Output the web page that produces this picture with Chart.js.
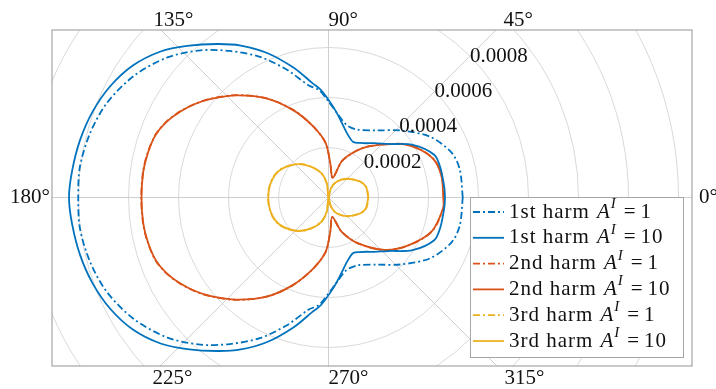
<!DOCTYPE html>
<html>
<head>
<meta charset="utf-8">
<script src="https://cdn.jsdelivr.net/npm/chart.js@4"></script>
<style>
  html, body { margin: 0; padding: 0; background: #fff; }
</style>
</head>
<body>
<canvas id="polar-chart" width="716" height="389"></canvas>
<script>
// Polar data: angle in degrees, radius in plot units
const h1a1Theta = [0, 12, 20, 31, 43, 54, 67, 76, 84, 90, 95, 100, 108, 116, 124, 131, 139, 148, 157, 165, 173, 180,
  187, 195, 203, 212, 221, 229, 236, 244, 252, 260, 265, 270, 276, 284, 293, 306, 317, 329, 340, 348, 360];
const h1a1R = [0.000537, 0.000537, 0.000524, 0.000473, 0.000393, 0.000332, 0.000295, 0.000299, 0.000338, 0.000384, 0.000431,
  0.000455, 0.000537, 0.000626, 0.000707, 0.000780, 0.000854, 0.000918, 0.000964, 0.000988, 0.001002, 0.001001,
  0.001002, 0.000988, 0.000964, 0.000918, 0.000854, 0.000780, 0.000707, 0.000626, 0.000537, 0.000455, 0.000431,
  0.000384, 0.000338, 0.000299, 0.000295, 0.000332, 0.000393, 0.000473, 0.000524, 0.000537, 0.000537];

const h1a10Theta = [0, 5, 15, 22, 32, 42, 50, 55, 60, 66, 74, 81, 87, 94, 98, 105, 113, 120, 126, 133, 139, 146, 153, 160, 167, 174, 180,
  186, 193, 200, 207, 214, 221, 227, 234, 240, 247, 255, 262, 266, 273, 279, 286, 294, 300, 305, 310, 318, 328, 338, 345, 355, 360];
const h1a10R = [0.000466, 0.000465, 0.000463, 0.000456, 0.000397, 0.000320, 0.000284, 0.000265, 0.000252, 0.000243, 0.000268,
  0.000312, 0.000363, 0.000431, 0.000462, 0.000537, 0.000628, 0.000702, 0.000759, 0.000829, 0.000890, 0.000944, 0.000980,
  0.001004, 0.001020, 0.001031, 0.001038,
  0.001031, 0.001020, 0.001004, 0.000980, 0.000944, 0.000890, 0.000829, 0.000759, 0.000702, 0.000628, 0.000537, 0.000462,
  0.000431, 0.000363, 0.000312, 0.000268, 0.000243, 0.000252, 0.000265, 0.000284, 0.000320, 0.000397, 0.000456, 0.000463,
  0.000465, 0.000466];

const h2Theta = [0, 10, 19, 27, 35, 43, 54, 62, 70, 78, 87, 93, 102, 112, 122, 132, 140, 145, 150, 155, 160, 166, 172, 180,
  188, 194, 200, 205, 210, 215, 220, 228, 238, 248, 258, 267, 273, 281, 291, 303, 317, 329, 342, 355, 360];
const h2a1R = [0.000461, 0.000461, 0.000451, 0.000418, 0.000372, 0.000312, 0.000249, 0.000200, 0.000153, 0.000081, 0.000137,
  0.000218, 0.000290, 0.000378, 0.000468, 0.000551, 0.000615, 0.000653, 0.000687, 0.000716, 0.000736, 0.000745, 0.000749, 0.000749,
  0.000749, 0.000745, 0.000736, 0.000716, 0.000687, 0.000653, 0.000615, 0.000551, 0.000468, 0.000378, 0.000290, 0.000218,
  0.000137, 0.000080, 0.000147, 0.000220, 0.000308, 0.000373, 0.000436, 0.000462, 0.000461];
const h2a10R = [0.000459, 0.000460, 0.000450, 0.000417, 0.000371, 0.000311, 0.000248, 0.000200, 0.000153, 0.000080, 0.000137,
  0.000218, 0.000290, 0.000377, 0.000468, 0.000550, 0.000614, 0.000652, 0.000686, 0.000715, 0.000735, 0.000744, 0.000748, 0.000748,
  0.000748, 0.000744, 0.000735, 0.000715, 0.000686, 0.000652, 0.000614, 0.000550, 0.000468, 0.000377, 0.000290, 0.000218,
  0.000137, 0.000079, 0.000147, 0.000219, 0.000307, 0.000372, 0.000435, 0.000461, 0.000459];

const h3Theta = [0, 16, 27, 45, 63, 75, 90, 97, 106, 119, 132, 147, 157, 168, 180,
  192, 203, 213, 228, 241, 254, 263, 270, 285, 297, 315, 333, 344, 360];
const h3a1R = [0.000160, 0.000157, 0.000141, 0.000106, 0.000071, 0.000038, 0, 0.000057, 0.000100, 0.000141, 0.000181,
  0.000217, 0.000233, 0.000240, 0.000242, 0.000240, 0.000233, 0.000217, 0.000181, 0.000141, 0.000100, 0.000057, 0,
  0.000038, 0.000071, 0.000106, 0.000141, 0.000157, 0.000160];
const h3a10R = [0.000159, 0.000156, 0.000141, 0.000106, 0.000071, 0.000038, 0, 0.000057, 0.000100, 0.000140, 0.000180,
  0.000216, 0.000232, 0.000239, 0.000241, 0.000239, 0.000232, 0.000216, 0.000180, 0.000140, 0.000100, 0.000057, 0,
  0.000038, 0.000071, 0.000106, 0.000141, 0.000156, 0.000159];

const seriesNames = ['1st harm', '1st harm', '2nd harm', '2nd harm', '3rd harm', '3rd harm'];
const seriesAmps = ['1', '10', '1', '10', '1', '10'];

const rGrid = [0.0002, 0.0004, 0.0006, 0.0008, 0.0010, 0.0012, 0.0014, 0.0016];
const rTickLabels = ['0.0002', '0.0004', '0.0006', '0.0008'];
const rLabelAngle = 45;
const thetaTicks = [0, 45, 90, 135, 180, 225, 270, 315];

const BLUE = '#0072BD', ORANGE = '#D95319', YELLOW = '#EDB120';
const DASHDOT = [7, 3, 2, 3];
const FONT = '"Liberation Serif", "Times New Roman", serif';

// polar -> cartesian so the linear x/y scales place the points
const toXY = (theta, r) => theta.map((t, i) => {
  const a = t * Math.PI / 180;
  return { x: r[i] * Math.cos(a), y: r[i] * Math.sin(a) };
});

const mkSet = (i, theta, r, color, dashed) => ({
  label: `${seriesNames[i]} A^I = ${seriesAmps[i]}`,
  data: toXY(theta, r),
  borderColor: color,
  backgroundColor: color,
  borderWidth: 1.8,
  borderDash: dashed ? DASHDOT : [],
  showLine: true,
  pointRadius: 0,
  tension: 0.3,
  order: dashed ? 1 : 0
});

const datasets = [
  mkSet(0, h1a1Theta, h1a1R, BLUE, true),
  mkSet(1, h1a10Theta, h1a10R, BLUE, false),
  mkSet(2, h2Theta, h2a1R, ORANGE, true),
  mkSet(3, h2Theta, h2a10R, ORANGE, false),
  mkSet(4, h3Theta, h3a1R, YELLOW, true),
  mkSet(5, h3Theta, h3a10R, YELLOW, false)
];

const polarAxes = {
  id: 'polarAxes',
  beforeDatasetsDraw(chart) {
    const { ctx, chartArea: a, scales: { x, y } } = chart;
    const cx = x.getPixelForValue(0), cy = y.getPixelForValue(0);
    ctx.save();
    ctx.beginPath();
    ctx.rect(a.left, a.top, a.right - a.left, a.bottom - a.top);
    ctx.clip();
    ctx.strokeStyle = '#d9d9d9';
    ctx.lineWidth = 1;
    rGrid.forEach(r => {
      ctx.beginPath();
      ctx.arc(cx, cy, x.getPixelForValue(r) - cx, 0, 2 * Math.PI);
      ctx.stroke();
    });
    ctx.strokeStyle = '#cfcfcf';
    thetaTicks.forEach(t => {
      const ang = t * Math.PI / 180;
      ctx.beginPath();
      ctx.moveTo(cx, cy);
      ctx.lineTo(cx + 2000 * Math.cos(ang), cy - 2000 * Math.sin(ang));
      ctx.stroke();
    });
    ctx.restore();
  },
  afterDatasetsDraw(chart) {
    const { ctx, chartArea: a, scales: { x, y } } = chart;
    const cx = x.getPixelForValue(0), cy = y.getPixelForValue(0);
    ctx.save();

    // frame
    ctx.strokeStyle = '#a6a6a6';
    ctx.lineWidth = 1.2;
    ctx.strokeRect(a.left, a.top, a.right - a.left, a.bottom - a.top);

    ctx.fillStyle = '#111';
    ctx.font = '21px ' + FONT;

    // radius labels along the 45 degree ray
    ctx.textAlign = 'left';
    ctx.textBaseline = 'middle';
    const la = rLabelAngle * Math.PI / 180;
    rTickLabels.forEach(lbl => {
      const rp = x.getPixelForValue(parseFloat(lbl)) - cx;
      ctx.fillText(lbl, cx + rp * Math.cos(la), cy - rp * Math.sin(la));
    });

    // angle labels where the rays leave the box
    thetaTicks.forEach(t => {
      const ang = t * Math.PI / 180;
      const c = Math.cos(ang), s = Math.sin(ang);
      const hits = [];
      if (c > 1e-9) hits.push(['r', (a.right - cx) / c]);
      if (c < -1e-9) hits.push(['l', (a.left - cx) / c]);
      if (s > 1e-9) hits.push(['t', (cy - a.top) / s]);
      if (s < -1e-9) hits.push(['b', (cy - a.bottom) / s]);
      hits.sort((p, q) => p[1] - q[1]);
      const [edge, d] = hits[0];
      const ix = cx + d * c, iy = cy - d * s;
      const txt = t + '°';
      if (edge === 't') {
        ctx.textAlign = 'left';
        ctx.fillText(txt, ix + 10.6 * c, a.top - 9.5);
      } else if (edge === 'b') {
        ctx.textAlign = 'left';
        ctx.fillText(txt, ix + 10.6 * c, a.bottom + 12.5);
      } else if (edge === 'l') {
        ctx.textAlign = 'right';
        ctx.fillText(txt, a.left - 2, iy);
      } else {
        ctx.textAlign = 'left';
        ctx.fillText(txt, a.right + 7, iy);
      }
    });

    // legend box in the lower right corner
    const bw = 213, bh = 160;
    const bx = a.right - 9 - bw, by = a.bottom - 9 - bh;
    ctx.fillStyle = '#fff';
    ctx.fillRect(bx, by, bw, bh);
    ctx.strokeStyle = '#a6a6a6';
    ctx.lineWidth = 1;
    ctx.strokeRect(bx + 0.5, by + 0.5, bw, bh);

    chart.data.datasets.forEach((ds, i) => {
      const ry = by + 15 + i * 25.8;
      ctx.strokeStyle = ds.borderColor;
      ctx.lineWidth = ds.borderWidth;
      ctx.setLineDash(ds.borderDash);
      ctx.beginPath();
      ctx.moveTo(bx + 3, ry);
      ctx.lineTo(bx + 34, ry);
      ctx.stroke();
      ctx.setLineDash([]);

      ctx.fillStyle = '#111';
      ctx.textAlign = 'left';
      ctx.textBaseline = 'middle';
      let tx = bx + 39;
      ctx.font = '21px ' + FONT;
      ctx.letterSpacing = '1px';
      ctx.fillText(seriesNames[i], tx, ry);
      tx += ctx.measureText(seriesNames[i]).width + 7;
      ctx.letterSpacing = '0px';
      ctx.font = 'italic 21px ' + FONT;
      ctx.fillText('A', tx, ry);
      tx += ctx.measureText('A').width + 1;
      ctx.font = 'italic 15px ' + FONT;
      ctx.fillText('I', tx, ry - 8);
      tx += ctx.measureText('I').width + 8;
      ctx.font = '21px ' + FONT;
      ctx.fillText('=', tx, ry);
      tx += ctx.measureText('=').width + 5;
      ctx.letterSpacing = '1px';
      ctx.fillText(seriesAmps[i], tx, ry);
      ctx.letterSpacing = '0px';
    });
    ctx.restore();
  }
};

const ctx = document.getElementById('polar-chart');
new Chart(ctx, {
  type: 'scatter',
  data: { datasets: datasets },
  options: {
    responsive: false,
    animation: false,
    devicePixelRatio: 1,
    layout: { padding: { left: 52, top: 30, right: 24, bottom: 23 } },
    scales: {
      x: { type: 'linear', display: false, min: -0.001106, max: 0.001454 },
      y: { type: 'linear', display: false, min: -0.000674, max: 0.000670 }
    },
    plugins: {
      legend: { display: false },
      tooltip: { enabled: false }
    }
  },
  plugins: [polarAxes]
});
</script>
</body>
</html>
